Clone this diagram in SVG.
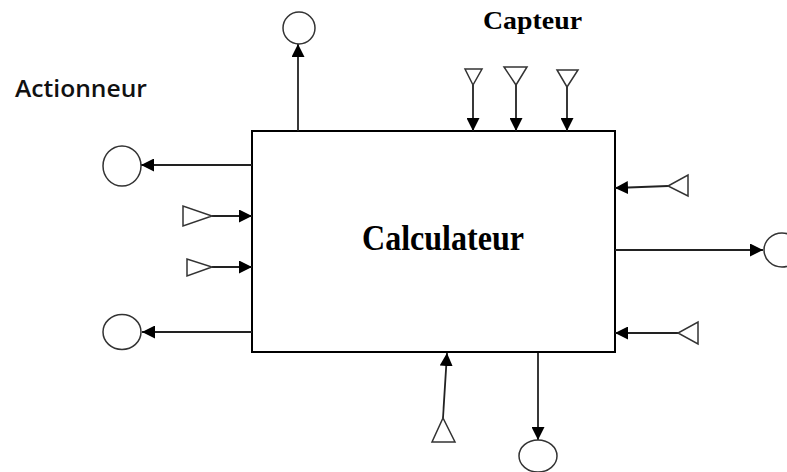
<svg xmlns="http://www.w3.org/2000/svg" width="787" height="472" viewBox="0 0 787 472">
<style>
.box{fill:#fff;stroke:#000;stroke-width:2}
.sym{fill:#fff;stroke:#333;stroke-width:1.5}
.wire{fill:none;stroke:#222;stroke-width:1.8}
.serif{font-family:"Liberation Serif","Times New Roman",serif;font-weight:bold;fill:#000}
.sans{font-family:"Open Sans","Liberation Sans",sans-serif;font-weight:600;fill:#111}
</style>
<defs>
<marker id="ah" viewBox="0 0 13 13" refX="13" refY="6.5" markerWidth="13" markerHeight="13" orient="auto" markerUnits="userSpaceOnUse">
<path d="M0,0 L13,6.5 L0,13 z" fill="#000"/>
</marker>
</defs>
<rect width="787" height="472" fill="#fff"/>
<text class="sans" x="15" y="97" font-size="23" textLength="132" lengthAdjust="spacingAndGlyphs">Actionneur</text>
<text class="serif" x="483" y="29" font-size="26" textLength="99" lengthAdjust="spacingAndGlyphs">Capteur</text>
<g id="calculateur">
<rect class="box" x="252" y="131" width="363" height="221"/>
<text class="serif" x="362" y="250" font-size="35" textLength="162" lengthAdjust="spacingAndGlyphs">Calculateur</text>
</g>
<g id="connectors">
<path class="wire" d="M298,131 L298,44" marker-end="url(#ah)"/>
<path class="wire" d="M473,85 L473,131" marker-end="url(#ah)"/>
<path class="wire" d="M516,85 L516,131" marker-end="url(#ah)"/>
<path class="wire" d="M567,87 L567,131" marker-end="url(#ah)"/>
<path class="wire" d="M252,165 L141,165" marker-end="url(#ah)"/>
<path class="wire" d="M252,332 L142,332" marker-end="url(#ah)"/>
<path class="wire" d="M212,216 L252,216" marker-end="url(#ah)"/>
<path class="wire" d="M212,267 L252,267" marker-end="url(#ah)"/>
<path class="wire" d="M668,186 L615,188" marker-end="url(#ah)"/>
<path class="wire" d="M678,333 L615,333" marker-end="url(#ah)"/>
<path class="wire" d="M615,250 L763,250" marker-end="url(#ah)"/>
<path class="wire" d="M443,418 L447,353" marker-end="url(#ah)"/>
<path class="wire" d="M538,353 L538,440" marker-end="url(#ah)"/>
</g>
<g id="act-top"><circle class="sym" cx="299" cy="28" r="16"/></g>
<g id="cap-top1"><polygon class="sym" points="465,69 482,69 473,85"/></g>
<g id="cap-top2"><polygon class="sym" points="504,67 527,67 516,85"/></g>
<g id="cap-top3"><polygon class="sym" points="557,70 578,70 567,87"/></g>
<g id="act-left1"><ellipse class="sym" cx="122" cy="166" rx="19" ry="20"/></g>
<g id="act-left2"><ellipse class="sym" cx="122" cy="332" rx="19" ry="17.5"/></g>
<g id="cap-left1"><polygon class="sym" points="183,206 183,226 212,216"/></g>
<g id="cap-left2"><polygon class="sym" points="187,259 187,276 212,267"/></g>
<g id="cap-right1"><polygon class="sym" points="688,175 688,196 668,186"/></g>
<g id="cap-right2"><polygon class="sym" points="698,322 698,344 678,333"/></g>
<g id="act-right"><ellipse class="sym" cx="782" cy="250" rx="18" ry="17"/></g>
<g id="cap-bottom"><polygon class="sym" points="432,442 455,442 443,418"/></g>
<g id="act-bottom"><ellipse class="sym" cx="538" cy="456" rx="19" ry="16"/></g>
</svg>
